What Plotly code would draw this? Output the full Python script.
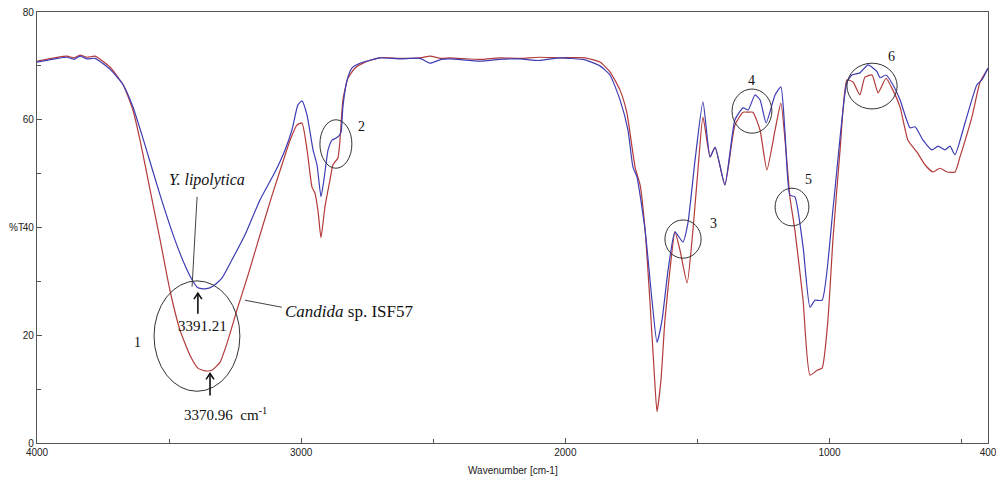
import plotly.graph_objects as go

# ---------------- data ----------------
blue_wn = [4000, 3932, 3886, 3860, 3837, 3810, 3780, 3724, 3674, 3637,
           3591, 3534, 3478, 3440, 3413, 3391, 3364, 3334, 3300, 3262,
           3213, 3156, 3099, 3061, 3035, 3012, 2997, 2978, 2955, 2940,
           2925, 2914, 2898, 2883, 2868, 2857, 2849, 2842, 2826, 2808,
           2777, 2702, 2626, 2550, 2512, 2470, 2437, 2323, 2250, 2172,
           2100, 2020, 1926, 1869, 1831, 1793, 1763, 1744, 1729, 1698,
           1672, 1653, 1634, 1611, 1585, 1555, 1536, 1509, 1479, 1452,
           1433, 1396, 1358, 1327, 1308, 1282, 1263, 1240, 1206, 1184,
           1169, 1150, 1131, 1100, 1074, 1055, 1028, 986, 934, 915,
           885, 854, 820, 809, 786, 760, 733, 695, 676, 646,
           612, 589, 563, 544, 525, 487, 442, 423, 400]
blue_t = [70.7, 71.3, 71.6, 71.2, 71.8, 71.3, 71.4, 69.4, 66.5, 62.4,
          55.3, 46.0, 37.7, 33.0, 30.3, 28.8, 28.6, 29.1, 30.6, 34.0,
          38.6, 45.1, 50.3, 54.4, 58.1, 62.8, 63.5, 60.9, 54.4, 51.6,
          45.7, 48.8, 54.4, 56.2, 56.6, 57.0, 57.7, 62.4, 67.4, 69.6,
          70.5, 71.5, 71.3, 71.4, 70.5, 71.2, 71.3, 70.9, 71.2, 71.3,
          71.0, 71.5, 71.1, 70.0, 68.3, 63.7, 58.1, 51.2, 49.4, 39.5,
          26.5, 18.7, 22.8, 32.1, 39.2, 37.3, 40.8, 52.5, 63.3, 53.1,
          54.9, 47.9, 60.0, 62.2, 61.8, 64.6, 63.7, 59.4, 64.6, 66.1,
          58.1, 46.0, 45.7, 36.4, 25.2, 26.5, 26.5, 43.8, 67.0, 68.3,
          68.7, 70.2, 68.9, 67.8, 68.3, 66.5, 63.7, 58.5, 58.7, 56.2,
          54.4, 55.1, 54.4, 55.1, 53.5, 59.4, 66.5, 67.4, 69.6]

red_wn = [4000, 3932, 3886, 3860, 3837, 3810, 3780, 3724, 3674, 3637,
          3610, 3572, 3534, 3497, 3459, 3421, 3391, 3364, 3338, 3307,
          3277, 3243, 3201, 3156, 3110, 3073, 3042, 3016, 2997, 2978,
          2959, 2948, 2936, 2925, 2910, 2891, 2880, 2861, 2853, 2842,
          2823, 2796, 2758, 2702, 2626, 2550, 2512, 2470, 2437, 2323,
          2250, 2172, 2100, 2020, 1926, 1869, 1831, 1793, 1767, 1736,
          1717, 1698, 1680, 1664, 1653, 1638, 1623, 1604, 1585, 1566,
          1539, 1517, 1498, 1479, 1452, 1433, 1396, 1358, 1327, 1308,
          1290, 1263, 1237, 1206, 1184, 1165, 1150, 1131, 1100, 1074,
          1047, 1028, 1006, 987, 960, 934, 911, 885, 866, 839,
          816, 786, 760, 733, 703, 669, 638, 608, 582, 555,
          525, 506, 461, 430, 404, 400]
red_t = [70.9, 71.5, 71.8, 71.5, 72.0, 71.6, 71.8, 69.8, 66.5, 61.8,
         56.2, 47.0, 37.7, 28.4, 21.0, 16.3, 13.9, 13.4, 13.5, 15.0,
         19.1, 24.7, 31.2, 38.6, 46.0, 51.6, 56.2, 59.0, 59.4, 54.5,
         47.5, 46.4, 43.0, 38.1, 43.8, 48.8, 51.6, 52.9, 56.2, 63.7,
         67.7, 69.6, 70.7, 71.5, 71.4, 71.5, 71.8, 71.4, 71.5, 71.2,
         71.5, 71.4, 71.6, 71.5, 71.5, 70.7, 68.9, 65.5, 61.3, 51.2,
         47.9, 39.5, 26.5, 13.5, 5.8, 11.7, 22.8, 32.1, 39.2, 35.8,
         29.7, 39.5, 50.7, 60.5, 53.1, 54.9, 47.9, 59.0, 61.4, 61.4,
         61.4, 58.1, 50.7, 58.1, 63.1, 54.4, 45.7, 39.5, 26.5, 12.6,
         13.5, 13.9, 22.8, 37.7, 54.4, 67.4, 67.0, 64.6, 67.9, 68.3,
         65.0, 67.7, 65.5, 62.4, 56.2, 54.0, 51.6, 50.3, 51.0, 50.3,
         50.3, 53.1, 60.5, 67.0, 69.2, 69.5]

x_major_ticks = [4000, 3000, 2000, 1000, 400]
x_minor_ticks = [3500, 2500, 1500, 500]
y_major_ticks = [0, 20, 40, 60, 80]

# numbered band circles: (label, wn_left, wn_right, t_low, t_high, label_wn, label_t)
band_circles = [
    ("1", 3557, 3232, 9.6, 30.1, 3621, 18.7),
    ("2", 2929, 2808, 51.0, 60.0, 2770, 58.7),
    ("3", 1623, 1486, 34.3, 41.4, 1441, 40.8),
    ("4", 1369, 1218, 57.5, 65.7, 1294, 67.2),
    ("5", 1206, 1078, 40.3, 47.3, 1081, 49.0),
    ("6", 934, 744, 62.0, 70.5, 767, 71.8),
]

# peak arrows: (wn, tail_t, tip_t)
peak_arrows = [(3391, 24.0, 27.8), (3345, 8.8, 12.9)]

BLUE = "#3d3db5"
RED = "#b33a3a"
SERIF = "Liberation Serif, Times New Roman, serif"
SANS = "Liberation Sans, Arial, sans-serif"

fig = go.Figure()
fig.add_trace(go.Scatter(x=red_wn, y=red_t, mode="lines",
                         line=dict(color=RED, width=1.2, shape="spline", smoothing=0.5),
                         name="Candida sp. ISF57"))
fig.add_trace(go.Scatter(x=blue_wn, y=blue_t, mode="lines",
                         line=dict(color=BLUE, width=1.2, shape="spline", smoothing=0.5),
                         name="Y. lipolytica"))

shapes = []
annotations = []
for lab, x0, x1, y0, y1, lx, ly in band_circles:
    shapes.append(dict(type="circle", xref="x", yref="y", x0=x0, x1=x1, y0=y0, y1=y1,
                       line=dict(color="#333333", width=1)))
    annotations.append(dict(x=lx, y=ly, xref="x", yref="y", text=lab, showarrow=False,
                            font=dict(family=SERIF, size=14, color="#111")))

# arrows drawn as a shaft plus an open head
for wn, t0, t1 in peak_arrows:
    shapes.append(dict(type="line", xref="x", yref="y", x0=wn, x1=wn, y0=t0, y1=t1,
                       line=dict(color="#111", width=1.6)))
    shapes.append(dict(type="path", xref="x", yref="y",
                       path=f"M {wn + 15},{t1 - 1.1} L {wn},{t1} L {wn - 15},{t1 - 1.1}",
                       line=dict(color="#111", width=1.6)))

# leader lines for the sample names
shapes.append(dict(type="line", xref="x", yref="y", x0=3394, y0=45.7, x1=3413, y1=29.0,
                   line=dict(color="#444", width=1)))
shapes.append(dict(type="line", xref="x", yref="y", x0=3213, y0=26.5, x1=3073, y1=25.2,
                   line=dict(color="#444", width=1)))

annotations += [
    dict(x=3356, y=48.8, xref="x", yref="y", text="<i>Y. lipolytica</i>", showarrow=False,
         font=dict(family=SERIF, size=16, color="#111")),
    dict(x=3069, y=24.5, xref="x", yref="y", text="<i>Candida</i> sp. ISF57", showarrow=False,
         xanchor="left", font=dict(family=SERIF, size=17, color="#111")),
    dict(x=3372, y=21.7, xref="x", yref="y", text="3391.21", showarrow=False,
         font=dict(family=SERIF, size=15, color="#111")),
    dict(x=3288, y=5.4, xref="x", yref="y", text="3370.96 &nbsp;cm<sup>-1</sup>", showarrow=False,
         font=dict(family=SERIF, size=15, color="#111")),
    # axis titles
    dict(x=-0.012, y=40, xref="paper", yref="y", text="%T", showarrow=False,
         xanchor="right", yanchor="middle", font=dict(family=SANS, size=10, color="#222")),
    dict(x=0.5, y=-0.063, xref="paper", yref="paper", text="Wavenumber [cm-1]", showarrow=False,
         xanchor="center", yanchor="middle", font=dict(family=SANS, size=10, color="#222")),
]

fig.update_layout(
    width=996, height=478,
    margin=dict(l=37, r=8, t=12, b=35, autoexpand=False),
    paper_bgcolor="white", plot_bgcolor="white",
    showlegend=False,
    shapes=shapes, annotations=annotations,
    xaxis=dict(range=[4000, 400], showgrid=False, zeroline=False, automargin=False,
               showline=True, linecolor="#555", linewidth=1.3, mirror=True,
               tickmode="array", tickvals=x_major_ticks, ticktext=[str(v) for v in x_major_ticks],
               ticks="inside", ticklen=5, tickcolor="#555", ticklabeloverflow="allow",
               minor=dict(tickmode="array", tickvals=x_minor_ticks, ticks="inside",
                          ticklen=4, tickcolor="#555", showgrid=False),
               tickfont=dict(family=SANS, size=10, color="#222")),
    yaxis=dict(range=[0, 80], showgrid=False, zeroline=False, automargin=False,
               showline=True, linecolor="#555", linewidth=1.3, mirror=True,
               tickmode="array", tickvals=y_major_ticks,
               ticks="inside", ticklen=5, tickcolor="#555", ticklabeloverflow="allow",
               minor=dict(dtick=10, ticks="inside", ticklen=4, tickcolor="#555", showgrid=False),
               tickfont=dict(family=SANS, size=10, color="#222")),
)

fig.write_html("out.html", config={"displayModeBar": False},
               post_script="document.body.style.margin='0px';")
